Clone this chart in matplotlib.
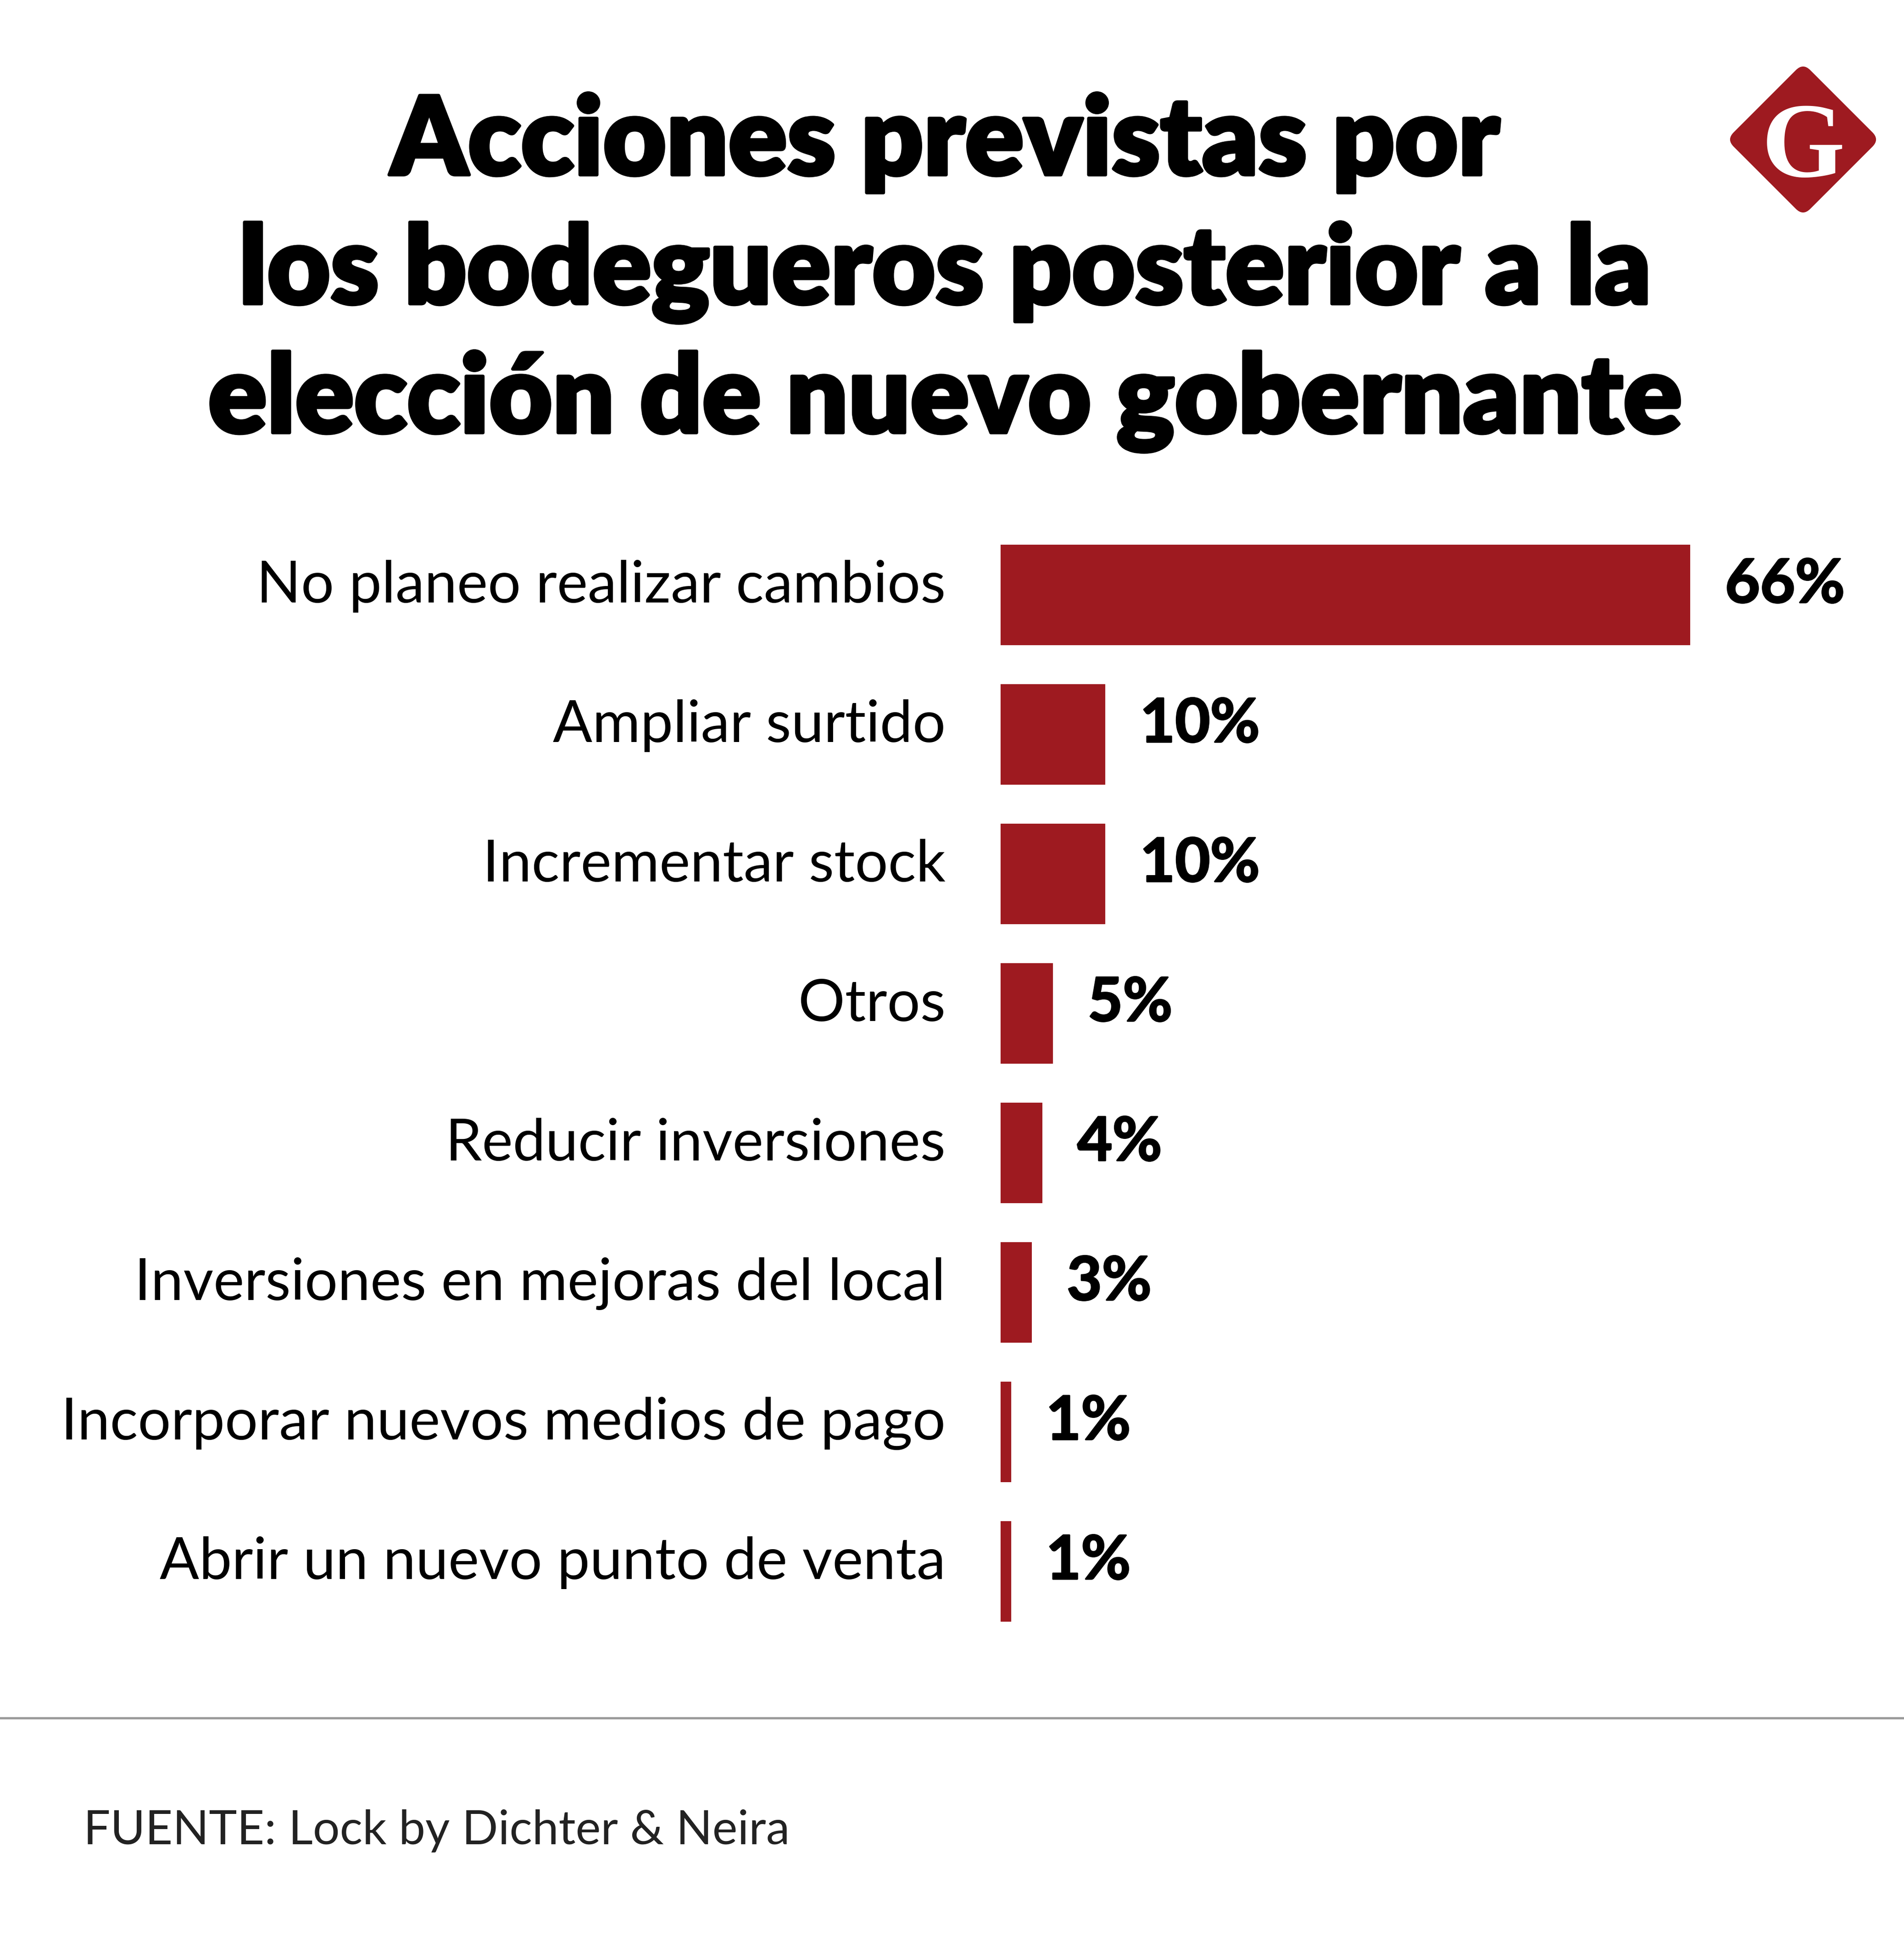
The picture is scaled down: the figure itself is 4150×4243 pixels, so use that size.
import matplotlib
matplotlib.use("Agg")
import matplotlib.pyplot as plt
from matplotlib.patches import FancyBboxPatch
import matplotlib.transforms as mtransforms
import matplotlib.patheffects as pe

# ---- data ----
categories = [
    "No planeo realizar cambios",
    "Ampliar surtido",
    "Incrementar stock",
    "Otros",
    "Reducir inversiones",
    "Inversiones en mejoras del local",
    "Incorporar nuevos medios de pago",
    "Abrir un nuevo punto de venta",
]
values = [66, 10, 10, 5, 4, 3, 1, 1]
value_labels = ["66%", "10%", "10%", "5%", "4%", "3%", "1%", "1%"]
title_lines = ["Acciones previstas por", "los bodegueros posterior a la",
               "elección de nuevo gobernante"]
source_text = "FUENTE: Lock by Dichter & Neira"

BAR_COLOR = "#9E1A20"
W, H = 4150, 4243
DPI = 100

fig = plt.figure(figsize=(W / DPI, H / DPI), dpi=DPI)
fig.patch.set_facecolor("white")

def fx(px):
    return px / W

def fy(px_from_top):
    return 1 - px_from_top / H

# ---- bar axes ----
row = 304.0
first_center = 1296.5
ax_top = first_center - row / 2
ax_bottom = ax_top + row * len(categories)
ax_left = 2181
ax_right = W
px_per_unit = 22.77
ax = fig.add_axes([fx(ax_left), fy(ax_bottom), fx(ax_right - ax_left),
                   (ax_bottom - ax_top) / H])
ax.set_xlim(0, (ax_right - ax_left) / px_per_unit)
ax.set_ylim(len(categories) - 0.5, -0.5)
ypos = list(range(len(categories)))
ax.barh(ypos, values, height=219 / row, color=BAR_COLOR, align="center")
ax.axis("off")

base_off = 16.5 / row
for y, cat, v, vl in zip(ypos, categories, values, value_labels):
    ax.annotate(cat, xy=(0, y + base_off), xycoords="data",
                xytext=(-120 * 0.72, 0), textcoords="offset points",
                ha="right", va="baseline", family="Lato", fontsize=91.5,
                color="black")
    ax.annotate(vl, xy=(v, y + base_off), xycoords="data",
                xytext=(76 * 0.72, 0), textcoords="offset points",
                ha="left", va="baseline", family="Lato", fontweight="bold",
                fontsize=95, color="black",
                path_effects=[pe.withStroke(linewidth=2.5, foreground="black")])

# ---- title ----
title_baselines = [381, 662, 943]
for line, b in zip(title_lines, title_baselines):
    fig.text(fx(2060), fy(b), line, ha="center", va="baseline",
             family="Lato", fontweight="heavy", fontsize=171, color="black",
             path_effects=[pe.withStroke(linewidth=5, foreground="black")])

# ---- logo ----
lax = fig.add_axes([fx(3930 - 180), fy(304 + 180), fx(360), 360 / H])
lax.set_xlim(-180, 180)
lax.set_ylim(-180, 180)
lax.axis("off")
side = 157 * 2 ** 0.5 - 20 + 14
rot = mtransforms.Affine2D().rotate_deg(45) + lax.transData
diamond = FancyBboxPatch((-side / 2, -side / 2), side, side,
                         boxstyle="round,pad=10,rounding_size=22",
                         facecolor=BAR_COLOR, edgecolor="none", transform=rot)
lax.add_patch(diamond)
lax.text(0, 0, "G", ha="center", va="center_baseline", color="white",
         family="Liberation Serif", fontweight="bold", fontsize=168)

# ---- separator & source ----
fig.add_artist(plt.Line2D([0, 1], [fy(3744), fy(3744)], transform=fig.transFigure,
                          color="#9a9a9a", linewidth=3.5))
fig.text(fx(182), fy(4019), source_text, ha="left", va="baseline",
         family="Lato", fontsize=74.5, color="#222222")

fig.savefig("out.png", dpi=DPI, facecolor="white")
